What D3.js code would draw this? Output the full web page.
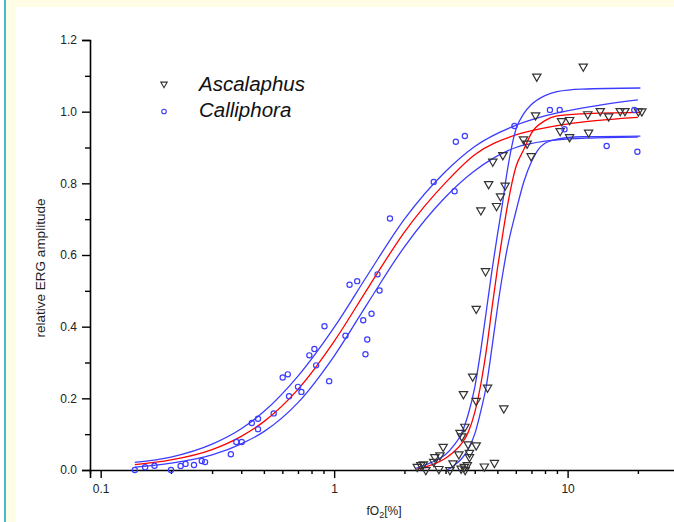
<html>
<head>
<script src="https://d3js.org/d3.v7.min.js"></script>
<style>
  body { margin: 0; background: #fff; }
  text { font-family: "Liberation Sans", Arial, sans-serif; }
</style>
</head>
<body>
<script>
// measured points, [fO2 %, relative amplitude]
const calliphora = [
  [0.140,0.0],[0.155,0.008],[0.170,0.012],[0.200,0.0],[0.220,0.011],[0.231,0.017],[0.251,0.014],
  [0.271,0.025],[0.280,0.022],[0.361,0.044],[0.381,0.078],[0.402,0.078],[0.444,0.131],[0.472,0.143],
  [0.472,0.114],[0.551,0.158],[0.602,0.258],[0.633,0.267],[0.641,0.206],[0.700,0.232],[0.724,0.218],
  [0.783,0.320],[0.823,0.338],[0.837,0.292],[0.909,0.401],[0.952,0.248],[1.118,0.375],[1.164,0.517],
  [1.255,0.527],[1.332,0.418],[1.362,0.323],[1.386,0.364],[1.446,0.436],[1.565,0.501],[1.534,0.546],
  [1.734,0.702],[2.67,0.804],[3.28,0.778],[3.32,0.916],[3.63,0.932],[5.92,0.960],[8.40,1.005],
  [9.25,1.005],[9.70,0.951],[14.7,0.904],[19.3,1.005],[19.9,0.888]
];
const ascalaphus = [
  [7.38,1.098],[11.67,1.126],[7.29,0.990],[9.42,0.974],[10.2,0.977],[12.2,0.993],[13.8,1.002],
  [15.0,0.987],[16.8,1.002],[17.6,1.002],[20.1,1.001],[20.8,1.001],[9.29,0.946],[10.2,0.929],
  [12.3,0.942],[6.47,0.923],[6.71,0.911],[6.98,0.876],[5.28,0.879],[4.78,0.861],[4.59,0.798],
  [5.40,0.794],[5.16,0.764],[4.96,0.737],[4.25,0.725],[4.45,0.555],[4.06,0.450],[3.92,0.261],
  [4.54,0.230],[3.58,0.212],[4.06,0.193],[5.33,0.172],[3.63,0.121],[3.46,0.104],[3.52,0.094],
  [3.75,0.072],[4.06,0.069],[2.93,0.065],[2.84,0.041],[2.70,0.036],[3.42,0.044],[3.80,0.048],
  [3.80,0.036],[2.67,0.023],[2.35,0.014],[2.41,0.016],[2.27,0.009],[2.47,0.0],[2.81,0.003],
  [3.13,0.0],[3.23,0.019],[3.61,0.009],[3.72,0.014],[3.64,0.0],[4.40,0.010],[4.86,0.020],[3.50,0.004]
];

// fitted curves
const calliX     = [0.14,0.2,0.3,0.4,0.5,0.7,1,1.4,2,3,4,6,8,12,20];
const calliFit   = [0.015,0.028,0.057,0.094,0.135,0.225,0.359,0.509,0.664,0.802,0.88,0.935,0.955,0.972,0.984];
const calliUpper = [0.021,0.036,0.072,0.115,0.163,0.262,0.398,0.547,0.70,0.833,0.903,0.962,0.988,1.012,1.033];
const calliLower = [0.008,0.019,0.042,0.073,0.107,0.188,0.318,0.468,0.623,0.762,0.835,0.900,0.918,0.926,0.929];

const ascFit = [[2.25,0.002],[2.5,0.01],[2.75,0.02],[3.0,0.033],[3.25,0.05],[3.5,0.072],[3.75,0.105],
  [4.0,0.16],[4.25,0.24],[4.5,0.34],[4.75,0.455],[5.0,0.56],[5.25,0.65],[5.5,0.73],[6.0,0.845],
  [6.5,0.895],[7.0,0.94],[8.0,0.975],[9.0,0.988],[11.5,0.994],[20.5,0.998]];
const ascUpper = [[2.25,0.005],[2.5,0.016],[2.75,0.028],[3.0,0.043],[3.25,0.068],[3.5,0.1],[3.75,0.155],
  [4.0,0.23],[4.25,0.335],[4.5,0.45],[4.75,0.56],[5.0,0.655],[5.25,0.74],[5.5,0.83],[6.0,0.95],
  [6.5,0.995],[7.0,1.02],[8.0,1.045],[9.0,1.056],[11.5,1.063],[20.5,1.066]];
const ascLower = [[3.05,0.0],[3.25,0.012],[3.5,0.03],[3.75,0.058],[4.0,0.1],[4.25,0.165],[4.5,0.24],
  [4.75,0.345],[5.0,0.45],[5.25,0.54],[5.5,0.615],[6.0,0.72],[6.5,0.805],[7.0,0.86],[7.5,0.895],
  [8.0,0.912],[9.0,0.923],[11.5,0.93],[20.5,0.932]];

const xMajor = [0.1, 1, 10];
const xMinor = [0.09,0.2,0.3,0.4,0.5,0.6,0.7,0.8,0.9,2,3,4,5,6,7,8,9,20];
const yMajor = [0, 0.2, 0.4, 0.6, 0.8, 1.0, 1.2];
const yMinor = [0.1, 0.3, 0.5, 0.7, 0.9, 1.1];
const seriesNames = ["Ascalaphus", "Calliphora"];

const W = 674, H = 522;
const blue = "#3c3cff", red = "#ff0000", grey = "#333";

const svg = d3.select("body").append("svg").attr("width", W).attr("height", H);

// page frame
svg.append("rect").attr("x", 0).attr("y", 0).attr("width", W).attr("height", H).attr("fill", "#fff");
svg.append("rect").attr("x", 6).attr("y", 0).attr("width", W - 6).attr("height", 7).attr("fill", "#fffde6");
svg.append("rect").attr("x", 6).attr("y", 0).attr("width", 10).attr("height", H).attr("fill", "#fffde6");
svg.append("rect").attr("x", 4).attr("y", 0).attr("width", 2).attr("height", H).attr("fill", "#45bccb");

const x = d3.scaleLog().domain([0.09, 30]).range([90, 679]);
const y = d3.scaleLinear().domain([0, 1.2]).range([470, 40]);

const fnt = "12px";

// axes
const gx = svg.append("g").attr("transform", "translate(0,470)");
gx.call(d3.axisBottom(x).tickValues(xMajor).tickSize(8).tickPadding(6)
  .tickFormat(d => d === 0.1 ? "0.1" : d3.format("d")(d)));
gx.append("g").call(d3.axisBottom(x).tickValues(xMinor).tickSize(4).tickFormat(""))
  .select(".domain").remove();

const gy = svg.append("g").attr("transform", "translate(90,0)");
gy.call(d3.axisLeft(y).tickValues(yMajor).tickSize(8).tickPadding(5).tickFormat(d3.format(".1f")));
gy.append("g").call(d3.axisLeft(y).tickValues(yMinor).tickSize(5).tickFormat(""))
  .select(".domain").remove();

svg.selectAll(".domain").attr("stroke", "#000").attr("stroke-width", 1.6);
svg.selectAll(".tick line").attr("stroke", "#000").attr("stroke-width", 1.4);
svg.selectAll(".tick text").attr("fill", "#222").style("font-size", fnt)
  .style("font-family", "'Liberation Sans', Arial, sans-serif");

// axis titles
const xt = svg.append("text").attr("x", 384).attr("y", 515).attr("text-anchor", "middle")
  .attr("fill", "#222").style("font-size", "12px");
xt.append("tspan").text("fO");
xt.append("tspan").attr("dy", 3).style("font-size", "9px").text("2");
xt.append("tspan").attr("dy", -3).text("[%]");

svg.append("text").attr("transform", "translate(45,268) rotate(-90)")
  .attr("text-anchor", "middle").attr("fill", "#222").style("font-size", "13.5px")
  .text("relative ERG amplitude");

// curves
const line = d3.line().x(d => x(d[0])).y(d => y(d[1])).curve(d3.curveMonotoneX);
const zipX = ys => calliX.map((v, i) => [v, ys[i]]);

const curves = [
  [zipX(calliUpper), blue], [zipX(calliLower), blue], [zipX(calliFit), red],
  [ascUpper, blue], [ascLower, blue], [ascFit, red]
];
svg.append("g").selectAll("path").data(curves).join("path")
  .attr("d", d => line(d[0])).attr("fill", "none")
  .attr("stroke", d => d[1]).attr("stroke-width", 1.3);

// markers
const tri = d3.symbol().type(d3.symbolTriangle).size(30);
svg.append("g").selectAll("path").data(ascalaphus).join("path")
  .attr("d", tri)
  .attr("transform", d => `translate(${x(d[0])},${y(d[1])}) rotate(180)`)
  .attr("fill", "none").attr("stroke", grey).attr("stroke-width", 1.2);

svg.append("g").selectAll("circle").data(calliphora).join("circle")
  .attr("cx", d => x(d[0])).attr("cy", d => y(d[1])).attr("r", 2.6)
  .attr("fill", "none").attr("stroke", blue).attr("stroke-width", 1.2);

// legend
const leg = svg.append("g");
leg.append("path").attr("d", d3.symbol().type(d3.symbolTriangle).size(18))
  .attr("transform", "translate(164,84) rotate(180)")
  .attr("fill", "none").attr("stroke", grey).attr("stroke-width", 1.1);
leg.append("circle").attr("cx", 164).attr("cy", 111.5).attr("r", 2.3)
  .attr("fill", "none").attr("stroke", blue).attr("stroke-width", 1.1);
leg.selectAll("text").data(seriesNames).join("text")
  .attr("x", 199).attr("y", (d, i) => 91 + i * 26)
  .attr("fill", "#111").style("font-size", "20.5px").style("font-style", "italic")
  .text(d => d);
</script>
</body>
</html>
